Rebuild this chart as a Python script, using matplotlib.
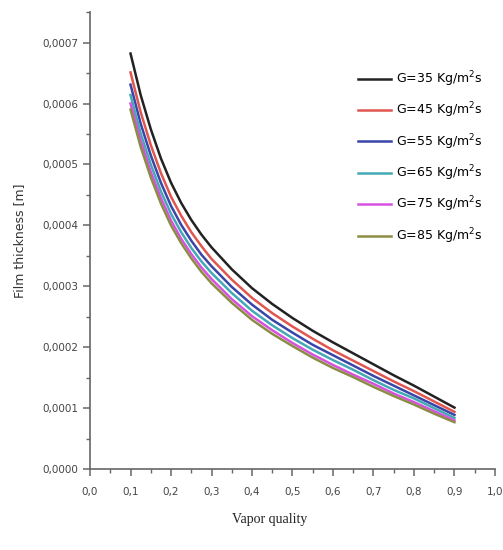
import numpy as np
import matplotlib.pyplot as plt
from matplotlib.ticker import MultipleLocator, FuncFormatter

# vapor quality sample points (denser where the curves bend most)
quality = [0.100, 0.125, 0.150, 0.175, 0.200, 0.225, 0.250, 0.275, 0.300,
           0.35, 0.40, 0.45, 0.50, 0.55, 0.60, 0.65, 0.70, 0.75, 0.80, 0.85, 0.90]

# film thickness, in micrometres
g35 = [682, 614, 558, 510, 470, 437, 409, 385, 364,
       328, 297, 271, 248, 227, 208, 190, 172, 154, 137, 119, 101]
g45 = [651, 586, 532, 486, 447, 416, 389, 366, 345,
       311, 281, 256, 234, 214, 195, 178, 161, 144, 128, 111, 94]
g55 = [631, 567, 515, 470, 432, 401, 375, 352, 333,
       299, 270, 245, 224, 204, 187, 170, 153, 137, 121, 105, 89]
g65 = [614, 551, 500, 456, 419, 389, 363, 341, 322,
       289, 260, 236, 215, 196, 179, 163, 146, 130, 116, 100, 84]
g75 = [600, 539, 488, 445, 408, 378, 353, 331, 312,
       279, 251, 228, 207, 188, 171, 155, 140, 124, 110, 95, 80]
g85 = [590, 529, 479, 436, 400, 371, 346, 324, 305,
       273, 245, 222, 202, 183, 166, 151, 135, 120, 106, 91, 77]

labels = ['G=35 Kg/m$^2$s', 'G=45 Kg/m$^2$s', 'G=55 Kg/m$^2$s',
          'G=65 Kg/m$^2$s', 'G=75 Kg/m$^2$s', 'G=85 Kg/m$^2$s']
colors = ['#222222', '#e0574f', '#3a45a8', '#45a9b5', '#d850e0', '#8c8c45']

fig = plt.figure(figsize=(5.03, 5.5), dpi=100)
ax = fig.add_axes([0.179, 0.147, 0.805, 0.831])

series = [g35, g45, g55, g65, g75, g85]
lines = []
for vals, lab, col in zip(series, labels, colors):
    ln, = ax.plot(quality, np.array(vals) * 1e-6, color=col, lw=1.8, label=lab,
                  solid_joinstyle='round')
    lines.append(ln)
# black curve on top
lines[0].set_zorder(5)

ax.set_xlim(0, 1.0)
ax.set_ylim(0, 0.00075)
ax.xaxis.set_major_locator(MultipleLocator(0.1))
ax.xaxis.set_minor_locator(MultipleLocator(0.05))
ax.yaxis.set_major_locator(MultipleLocator(0.0001))
ax.yaxis.set_minor_locator(MultipleLocator(0.00005))
ax.xaxis.set_major_formatter(FuncFormatter(lambda v, p: f'{v:.1f}'.replace('.', ',')))
ax.yaxis.set_major_formatter(FuncFormatter(lambda v, p: f'{v:.4f}'.replace('.', ',')))

for s in ['top', 'right']:
    ax.spines[s].set_visible(False)
for s in ['left', 'bottom']:
    ax.spines[s].set_color('#666666')
    ax.spines[s].set_linewidth(1.2)
ax.tick_params(which='both', direction='out', color='#666666', labelcolor='#444444', labelsize=7.5)
ax.tick_params(which='major', length=5, width=1.1)
ax.tick_params(which='minor', length=3, width=1.0)
ax.tick_params(axis='x', pad=8)

ax.set_ylabel('Film thickness [m]', fontsize=9, color='#333333', labelpad=12)
fig.text(270 / 503, 1 - 520 / 550, 'Vapor quality', family='Liberation Serif',
         fontsize=10, color='#222222', ha='center', va='center')

ax.legend(lines, labels, loc='upper left', bbox_to_anchor=(353 / 503, 1 - 64 / 550),
          bbox_transform=fig.transFigure, frameon=False, fontsize=9,
          handlelength=2.6, handletextpad=0.4, labelspacing=0.95, borderaxespad=0)

plt.savefig('out.png', dpi=100)
